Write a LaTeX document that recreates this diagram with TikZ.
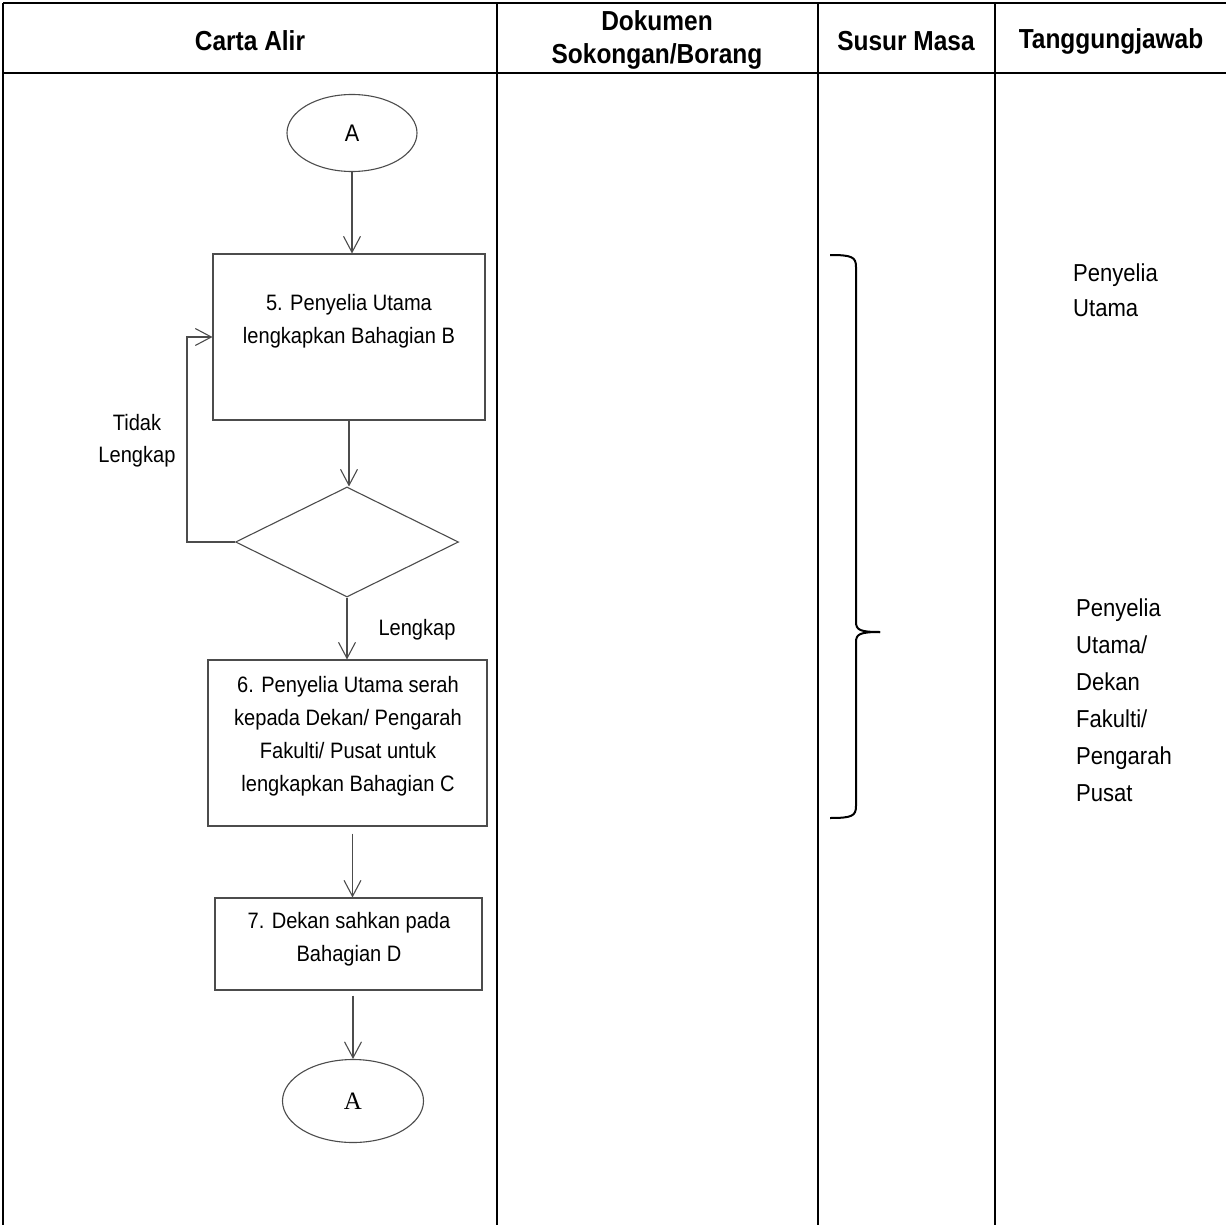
\documentclass[tikz,border=0pt]{standalone}
\usepackage{fontspec}
\setmainfont{Liberation Sans}[FakeStretch=0.9]
\newfontfamily\hdrfont{Liberation Sans}[FakeStretch=0.89]
\newfontfamily\serifA{Liberation Serif}
\usetikzlibrary{shapes.geometric,arrows.meta,calc}
\tikzset{
  gridline/.style={line width=1.8pt,black},
  flowline/.style={draw=black!70,line width=1.1pt},
  flow/.style={draw=black!70,line width=1.1pt,-{Straight Barb[length=16pt,width=17pt]}},
  boxnode/.style={flowline,rectangle,inner sep=0pt},
  ovalnode/.style={flowline,ellipse,inner sep=0pt},
  diamondnode/.style={flowline,diamond,inner sep=0pt},
  hdr/.style={font=\hdrfont\bfseries\fontsize{27.5}{33}\selectfont,align=center},
  txt/.style={font=\fontsize{22.3}{33}\selectfont,align=center,inner sep=0pt},
  sidetxt/.style={font=\fontsize{22}{36}\selectfont,align=left,inner sep=0pt,anchor=west},
}
\begin{document}
\begin{tikzpicture}[x=1pt,y=-1pt]
\useasboundingbox[fill=white] (0,0) rectangle (1226,1225);
% table grid
\coordinate (tl) at (3,3);
\coordinate (tr) at (1226,3);
\coordinate (hl) at (3,73);
\coordinate (hr) at (1226,73);
\coordinate (bl) at (3,1225);
\coordinate (c1t) at (497,3);
\coordinate (c1b) at (497,1225);
\coordinate (c2t) at (818,3);
\coordinate (c2b) at (818,1225);
\coordinate (c3t) at (995,3);
\coordinate (c3b) at (995,1225);
\draw[gridline] (tl) -- (tr);
\draw[gridline] (hl) -- (hr);
\draw[gridline] (tl) -- (bl);
\draw[gridline] (c1t) -- (c1b);
\draw[gridline] (c2t) -- (c2b);
\draw[gridline] (c3t) -- (c3b);
% headers
\node[hdr] (h1) at (250,41) {Carta Alir};
\node[hdr] (h2) at (657,40) {Dokumen\\Sokongan/Borang};
\node[hdr] (h3) at (906,41) {Susur Masa};
\node[hdr] (h4) at (1111,41) {Tanggungjawab};
% flowchart
\node[ovalnode,minimum width=130pt,minimum height=77pt,font=\fontsize{24}{28}\selectfont] (A1) at (352,133) {A};
\node[boxnode,minimum width=272pt,minimum height=166pt] (b5) at (349,337) {};
\node[txt] (t5) at (349,321) {5. Penyelia Utama\\lengkapkan Bahagian B};
\node[diamondnode,minimum width=223pt,minimum height=110pt] (d) at (347,542) {};
\node[boxnode,minimum width=279pt,minimum height=166pt] (b6) at (347.5,743) {};
\node[txt] (t6) at (348,736) {6. Penyelia Utama serah\\kepada Dekan/ Pengarah\\Fakulti/ Pusat untuk\\lengkapkan Bahagian C};
\node[boxnode,minimum width=267pt,minimum height=92pt] (b7) at (348.5,944) {};
\node[txt] (t7) at (349,939) {7. Dekan sahkan pada\\Bahagian D};
\node[ovalnode,minimum width=141pt,minimum height=83pt,font=\serifA\fontsize{25}{28}\selectfont] (A2) at (353,1101) {A};
% labels
\node[txt,font=\fontsize{22.3}{32}\selectfont] (tl1) at (137,441) {Tidak\\Lengkap};
\node[txt] (lk) at (417,630) {Lengkap};
% connectors
\draw[flow] (A1.south) -- (A1.south |- b5.north);
\draw[flow] (b5.south) -- (b5.south |- d.north);
\draw[flow] (d.west) -- ++(-48,0) |- (b5.west);
\draw[flow] (d.south) -- (d.south |- b6.north);
\draw[flow,shorten <=7pt] ([xshift=5pt]b6.south) -- ([xshift=5pt]b6.south |- b7.north);
\draw[flow,shorten <=5pt] (b7.south -| A2.north) -- (A2.north);
% brace
\coordinate (brtop) at (830,255);
\coordinate (brtip) at (880,632);
\coordinate (brbot) at (830,818);
\draw[line width=2pt,black] (brtop) .. controls (852,255) and (856,257) .. (856,267) -- (856,622) .. controls (856,630) and (860,632) .. (brtip);
\draw[line width=2pt,black] (brtip) .. controls (860,632) and (856,634) .. (856,642) -- (856,806) .. controls (856,816) and (852,818) .. (brbot);
% responsibility
\node[sidetxt,font=\fontsize{24.5}{35}\selectfont] (r1) at (1073,290) {Penyelia\\Utama};
\node[sidetxt,font=\fontsize{24.5}{37}\selectfont] (r2) at (1076,700) {Penyelia\\Utama/\\Dekan\\Fakulti/\\Pengarah\\Pusat};
\end{tikzpicture}
\end{document}
